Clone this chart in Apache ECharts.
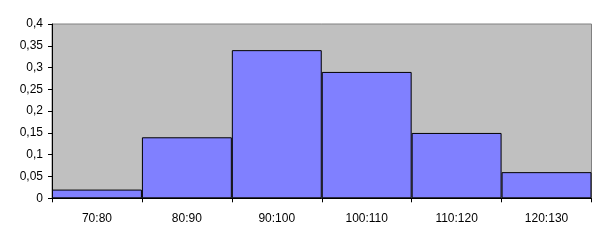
<!DOCTYPE html>
<html>
<head>
<meta charset="utf-8">
<script src="https://cdn.jsdelivr.net/npm/echarts@6/dist/echarts.min.js"></script>
<style>html,body{margin:0;padding:0;background:#fff}#c{width:604px;height:240px}</style>
</head>
<body>
<div id="c"></div>
<script>
var categories = ['70:80', '80:90', '90:100', '100:110', '110:120', '120:130'];
var frequencies = [0.02, 0.14, 0.34, 0.29, 0.15, 0.06];
var yMin = 0, yMax = 0.4, yStep = 0.05;

var chart = echarts.init(document.getElementById('c'), null, {renderer: 'canvas'});
chart.setOption({
  animation: false,
  backgroundColor: '#ffffff',
  textStyle: {fontFamily: 'Liberation Sans, Arial, sans-serif'},
  grid: {
    left: 52, right: 12.5, top: 24, bottom: 41.7,
    show: true, backgroundColor: '#c0c0c0', borderColor: '#808080', borderWidth: 1
  },
  xAxis: {
    type: 'category',
    data: categories,
    boundaryGap: true,
    axisLine: {show: true, lineStyle: {color: '#000', width: 1}},
    axisTick: {show: true, length: 4, inside: false, lineStyle: {color: '#000'}},
    axisLabel: {color: '#000', fontSize: 12, margin: 14, fontFamily: 'Liberation Sans, Arial, sans-serif'},
    splitLine: {show: false}
  },
  yAxis: {
    type: 'value',
    min: yMin, max: yMax, interval: yStep,
    axisLine: {show: true, lineStyle: {color: '#000', width: 1}},
    axisTick: {show: true, length: 4, lineStyle: {color: '#000'}},
    axisLabel: {
      color: '#000', fontSize: 12, margin: 9, fontFamily: 'Liberation Sans, Arial, sans-serif',
      formatter: function (v) { return String(Math.round(v * 100) / 100).replace('.', ','); }
    },
    splitLine: {show: false}
  },
  series: [{
    type: 'bar',
    data: frequencies,
    barCategoryGap: '0%',
    itemStyle: {color: '#8080ff', borderColor: '#000', borderWidth: 1}
  }]
});
</script>
</body>
</html>
